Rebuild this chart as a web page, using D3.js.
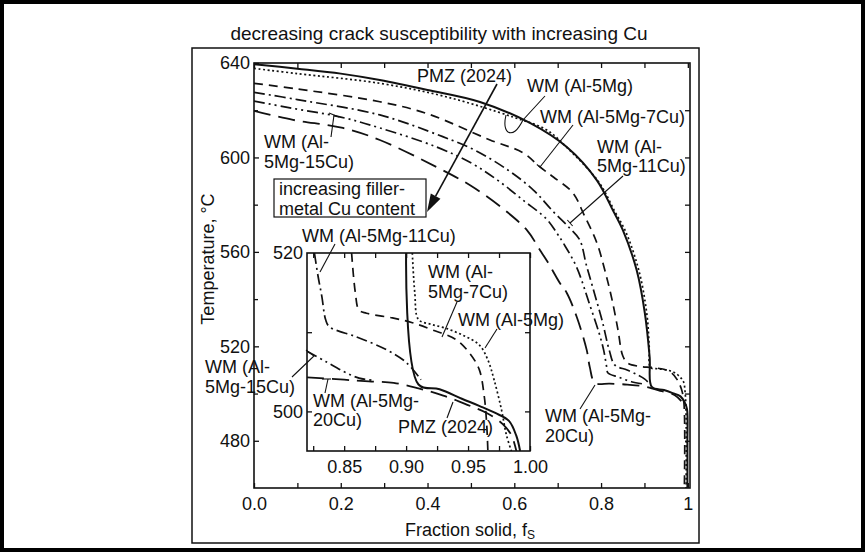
<!DOCTYPE html>
<html><head><meta charset="utf-8">
<script src="https://cdn.jsdelivr.net/npm/d3@7"></script>
<style>
body{margin:0;background:#fff}
svg{display:block}
text{font-family:"Liberation Sans",Arial,Helvetica,sans-serif;fill:#111}
</style>
</head><body>
<svg id="c" width="865" height="552"></svg>
<script>
// ---------- DATA ----------
// main plot: fraction solid vs temperature
const pmzFs  = [0, 0.1, 0.2, 0.29, 0.4, 0.521, 0.636, 0.721, 0.79, 0.827, 0.85, 0.882, 0.901, 0.912, 0.917, 0.945, 0.965, 0.983, 0.992, 0.998, 0.999, 0.999];
const pmzT   = [639.5, 637.6, 635.5, 632.8, 628.6, 623.5, 614.6, 604.4, 590.4, 577.7, 569.3, 552.3, 534, 515.5, 502.8, 501.5, 500.2, 498.8, 496.5, 493.5, 480, 460];
const mg5Fs  = [0, 0.1, 0.29, 0.445, 0.597, 0.675, 0.725, 0.795, 0.832, 0.857, 0.888, 0.906, 0.911, 0.914, 0.93, 0.952, 0.97, 0.982, 0.99, 0.994, 0.996, 0.996];
const mg5T   = [637.7, 635.5, 631.4, 625.6, 617.1, 611.6, 603.5, 589.5, 577, 568.5, 551.5, 533, 520, 511, 510.5, 510, 508.8, 507, 505, 500, 490, 460];
const cu7Fs  = [0, 0.1, 0.29, 0.4, 0.544, 0.62, 0.659, 0.69, 0.735, 0.76, 0.79, 0.809, 0.825, 0.839, 0.85, 0.862, 0.889, 0.92, 0.95, 0.963, 0.975, 0.985, 0.991, 0.992];
const cu7T   = [631.4, 629, 623.6, 618.5, 607.4, 602, 596, 591.7, 585, 576, 564, 552, 540, 527, 516, 512.8, 511.5, 511, 510, 508.7, 506, 502, 496, 460];
const cu11Fs = [0, 0.1, 0.29, 0.435, 0.51, 0.585, 0.644, 0.69, 0.728, 0.751, 0.766, 0.785, 0.803, 0.819, 0.832, 0.86, 0.885, 0.9, 0.912];
const cu11T  = [627.6, 624.5, 618, 608.8, 603, 594.7, 586.2, 577, 570, 565, 554.5, 542.3, 530.5, 518.3, 512, 510, 507.8, 506.2, 504.2];
const cu15Fs = [0, 0.083, 0.2, 0.29, 0.42, 0.502, 0.562, 0.621, 0.674, 0.698, 0.712, 0.743, 0.774, 0.796, 0.806, 0.813, 0.816, 0.84, 0.87, 0.9];
const cu15T  = [623.9, 621, 617.1, 612.5, 604.5, 597.5, 590.3, 581.8, 574, 568, 564, 553.8, 537.5, 525.3, 518.4, 511.2, 508.7, 507, 505, 504];
const cu20Fs = [0, 0.09, 0.205, 0.29, 0.42, 0.5, 0.58, 0.63, 0.659, 0.677, 0.705, 0.721, 0.744, 0.767, 0.774, 0.786, 0.82, 0.86, 0.9, 0.94, 0.97, 0.985];
const cu20T  = [619.7, 615.9, 612.5, 607.4, 596, 588, 577.4, 569, 560.8, 555.7, 546.8, 542.6, 532.4, 518.4, 511.2, 504.5, 504.2, 503.8, 503, 501, 499.3, 496.8];

// inset (enlarged end of solidification)
const inPmzFs  = [0.9, 0.91, 0.927, 0.945, 0.959, 0.972, 0.983, 0.989, 0.992];
const inPmzT   = [520, 503.4, 502.8, 501.6, 500.7, 499.8, 498.8, 496.9, 495];
const inMg5Fs  = [0.905, 0.907, 0.91, 0.92, 0.932, 0.946, 0.959, 0.966, 0.971, 0.977, 0.981, 0.985];
const inMg5T   = [520, 515, 511.6, 511, 510.5, 509.6, 508.4, 506.5, 504, 500.2, 497, 495];
const inCu7Fs  = [0.856, 0.859, 0.862, 0.868, 0.889, 0.905, 0.921, 0.94, 0.951, 0.959, 0.963, 0.965, 0.966];
const inCu7T   = [520, 515, 512.8, 512.4, 511.8, 511.2, 510.3, 509.1, 507.4, 505.3, 502, 498.5, 495];
const inCu11Fs = [0.826, 0.829, 0.832, 0.835, 0.838, 0.86, 0.884, 0.9, 0.912];
const inCu11T  = [520, 517, 514.5, 511.6, 510.7, 509.4, 507.8, 506.2, 504];
const inCu15Fs = [0.82, 0.835, 0.85, 0.862, 0.875];
const inCu15T  = [507.6, 506.3, 505, 504.2, 503.9];
const inCu20Fs = [0.82, 0.85, 0.87, 0.89, 0.91, 0.93, 0.95, 0.965, 0.978, 0.985, 0.989];
const inCu20T  = [504.3, 504, 503.8, 503.6, 502.9, 502, 500.8, 499.8, 498.4, 497, 495];

// ticks / labels
const xMajorMain = [0, 0.2, 0.4, 0.6, 0.8, 1];
const xLabelsMain = ["0.0", "0.2", "0.4", "0.6", "0.8", "1"];
const xMinorMain = [0.1, 0.3, 0.5, 0.7, 0.9];
const yMajorMain = [640, 600, 560, 520, 480];
const yMinorMain = [620, 580, 540, 500];
const yRightMain = [480, 500, 520, 540, 560, 580, 600, 620];
const xMajorIn = [0.85, 0.90, 0.95, 1.00];
const xLabelsIn = ["0.85", "0.90", "0.95", "1.00"];
const xMinorIn = [0.825, 0.875, 0.925, 0.975];
const yTicksIn = [500, 510];
const yLabelsIn = [520, 500];

// ---------- DRAW ----------
const svg = d3.select("#c");
const FONT = 18;

// page border and figure frame
svg.append("rect").attr("x",2).attr("y",2).attr("width",861).attr("height",548)
  .attr("fill","#fff").attr("stroke","#000").attr("stroke-width",4);
svg.append("rect").attr("x",192).attr("y",48).attr("width",507).attr("height",495)
  .attr("fill","none").attr("stroke","#111").attr("stroke-width",1.5);

svg.append("text").attr("x",439).attr("y",33).attr("text-anchor","middle")
  .attr("dominant-baseline","central").style("font-size","19px")
  .text("decreasing crack susceptibility with increasing Cu");

const x = d3.scaleLinear().domain([0, 1.005]).range([254, 690]);
const y = d3.scaleLinear().domain([460, 640]).range([488, 63]);

function noDomain(g){ g.select(".domain").remove(); g.selectAll("line").attr("stroke","#111").attr("stroke-width",1.3); }

// main axes
svg.append("g").attr("transform","translate(0,488)")
  .call(d3.axisBottom(x).tickValues(xMajorMain).tickSize(-5).tickPadding(9)
    .tickFormat((d,i)=>xLabelsMain[i]))
  .call(noDomain).call(g=>g.selectAll("text").style("font-size",FONT+"px").attr("font-family",null));
svg.append("g").attr("transform","translate(0,488)")
  .call(d3.axisBottom(x).tickValues(xMinorMain).tickSize(-5).tickFormat(""))
  .call(noDomain);
svg.append("g").attr("transform","translate(0,63)")
  .call(d3.axisTop(x).tickValues(xMajorMain.concat(xMinorMain)).tickSize(-5).tickFormat(""))
  .call(noDomain);
svg.append("g").attr("transform","translate(254,0)")
  .call(d3.axisLeft(y).tickValues(yMajorMain).tickSize(-5).tickPadding(4).tickFormat(d3.format("d")))
  .call(noDomain).call(g=>g.selectAll("text").style("font-size",FONT+"px").attr("font-family",null));
svg.append("g").attr("transform","translate(254,0)")
  .call(d3.axisLeft(y).tickValues(yMinorMain).tickSize(-4).tickFormat(""))
  .call(noDomain);
svg.append("g").attr("transform","translate(690,0)")
  .call(d3.axisRight(y).tickValues(yRightMain).tickSize(-5).tickFormat(""))
  .call(noDomain);
svg.append("rect").attr("x",254).attr("y",63).attr("width",436).attr("height",425)
  .attr("fill","none").attr("stroke","#111").attr("stroke-width",1.6);

// axis titles
const xt = svg.append("text").attr("x",470).attr("y",530).attr("text-anchor","middle")
  .attr("dominant-baseline","central").style("font-size",FONT+"px");
xt.append("tspan").text("Fraction solid, f");
xt.append("tspan").attr("dy",5).style("font-size","12px").text("S");
svg.append("text").attr("transform","translate(208,259) rotate(-90)").attr("text-anchor","middle")
  .attr("dominant-baseline","central").style("font-size",FONT+"px").text("Temperature, °C");

// clip for main
svg.append("clipPath").attr("id","clipMain").append("rect")
  .attr("x",254).attr("y",63).attr("width",436).attr("height",425);

const styles = {
  pmz:  {w:2.0, dash:null},
  mg5:  {w:1.7, dash:"2,2.6"},
  cu7:  {w:1.7, dash:"9,6"},
  cu11: {w:1.7, dash:"11,4,2,4"},
  cu15: {w:1.7, dash:"11,4,2,4,2,4"},
  cu20: {w:1.8, dash:"17,8"}
};

function drawSeries(g, xs, ys, fsArr, tArr, st){
  const line = d3.line().x(d=>xs(d[0])).y(d=>ys(d[1])).curve(d3.curveCatmullRom.alpha(0.5));
  g.append("path").datum(d3.zip(fsArr, tArr)).attr("d", line)
    .attr("fill","none").attr("stroke","#111").attr("stroke-width",st.w)
    .attr("stroke-dasharray", st.dash).attr("stroke-linejoin","round");
}

const gm = svg.append("g").attr("clip-path","url(#clipMain)");
drawSeries(gm, x, y, cu20Fs, cu20T, styles.cu20);
drawSeries(gm, x, y, cu15Fs, cu15T, styles.cu15);
drawSeries(gm, x, y, cu11Fs, cu11T, styles.cu11);
drawSeries(gm, x, y, cu7Fs, cu7T, styles.cu7);
drawSeries(gm, x, y, mg5Fs, mg5T, styles.mg5);
drawSeries(gm, x, y, pmzFs, pmzT, styles.pmz);

// ---------- annotations ----------
// one <text> per label; extra lines as tspans
function label(lines, x0, y0, gap){
  const t = svg.append("text").attr("x",x0).attr("y",y0).attr("dominant-baseline","central")
    .style("font-size",FONT+"px");
  [].concat(lines).forEach((s,i)=>{
    t.append("tspan").attr("x",x0).attr("dy", i ? (gap||19) : 0).text(s);
  });
}
function seg(x1,y1,x2,y2,w){
  svg.append("line").attr("x1",x1).attr("y1",y1).attr("x2",x2).attr("y2",y2)
    .attr("stroke","#111").attr("stroke-width",w||1.1);
}
function crossbar(x1,y1,x2,y2,h){
  const dx=x2-x1, dy=y2-y1, L=Math.hypot(dx,dy), nx=-dy/L, ny=dx/L;
  seg(x2-nx*h, y2-ny*h, x2+nx*h, y2+ny*h, 1.1);
}

label("PMZ (2024)", 417, 76);
label("WM (Al-5Mg)", 527, 86);
label("WM (Al-5Mg-7Cu)", 540, 117);
label(["WM (Al-", "5Mg-11Cu)"], 597, 146.5, 19.5);
label(["WM (Al-", "5Mg-15Cu)"], 264, 142, 20);
label(["WM (Al-5Mg-", "20Cu)"], 545, 416, 19.5);

// big arrow from PMZ label
{
  const x1=497,y1=84,tx=427,ty=212;
  const dx=tx-x1, dy=ty-y1, L=Math.hypot(dx,dy), ux=dx/L, uy=dy/L, nx=-uy, ny=ux;
  const bx=tx-ux*18, by=ty-uy*18;
  seg(x1,y1,bx,by,1.6);
  svg.append("path").attr("d",`M${tx},${ty}L${bx+nx*5.5},${by+ny*5.5}L${bx-nx*5.5},${by-ny*5.5}Z`).attr("fill","#111");
}
// 5Mg hook pointer
svg.append("path").attr("d","M545,96 L523,120 Q515,136 508,132 Q503,128 506,115")
  .attr("fill","none").attr("stroke","#111").attr("stroke-width",1.1);
// 7Cu pointer
seg(573,125,540,167); crossbar(573,125,540,167,4);
// 11Cu pointer
seg(623,176,570,223); crossbar(623,176,570,223,4);
// 15Cu pointer
seg(331,137,334,115); seg(329,113,339,117);
// 20Cu pointer (main)
seg(580,409,595,385);

// filler box
svg.append("rect").attr("x",274).attr("y",179).attr("width",152).attr("height",38)
  .attr("fill","#fff").attr("stroke","#111").attr("stroke-width",1.2);
label(["increasing filler-", "metal Cu content"], 279, 189, 19.5);

// ---------- inset ----------
const xi = d3.scaleLinear().domain([0.82, 1.0]).range([307, 530]);
const yi = d3.scaleLinear().domain([495, 520]).range([451, 253]);
svg.append("rect").attr("x",307).attr("y",253).attr("width",223).attr("height",198).attr("fill","#fff");
svg.append("clipPath").attr("id","clipIn").append("rect")
  .attr("x",307).attr("y",253).attr("width",223).attr("height",198);
const gi = svg.append("g").attr("clip-path","url(#clipIn)");
drawSeries(gi, xi, yi, inCu20Fs, inCu20T, styles.cu20);
drawSeries(gi, xi, yi, inCu15Fs, inCu15T, styles.cu15);
drawSeries(gi, xi, yi, inCu11Fs, inCu11T, styles.cu11);
drawSeries(gi, xi, yi, inCu7Fs, inCu7T, styles.cu7);
drawSeries(gi, xi, yi, inMg5Fs, inMg5T, styles.mg5);
drawSeries(gi, xi, yi, inPmzFs, inPmzT, styles.pmz);

svg.append("g").attr("transform","translate(0,451)")
  .call(d3.axisBottom(xi).tickValues(xMajorIn).tickSize(-5).tickPadding(9)
    .tickFormat((d,i)=>xLabelsIn[i]))
  .call(noDomain).call(g=>g.selectAll("text").style("font-size",FONT+"px").attr("font-family",null));
svg.append("g").attr("transform","translate(0,451)")
  .call(d3.axisBottom(xi).tickValues(xMinorIn).tickSize(-5).tickFormat(""))
  .call(noDomain);
svg.append("g").attr("transform","translate(0,253)")
  .call(d3.axisTop(xi).tickValues(xMajorIn.concat(xMinorIn)).tickSize(-5).tickFormat(""))
  .call(noDomain);
svg.append("g").attr("transform","translate(307,0)")
  .call(d3.axisLeft(yi).tickValues(yTicksIn).tickSize(-5).tickFormat(""))
  .call(noDomain);
svg.append("g").attr("transform","translate(307,0)")
  .call(d3.axisLeft(yi).tickValues(yLabelsIn).tickSize(0).tickPadding(4).tickFormat(d3.format("d")))
  .call(noDomain).call(g=>g.selectAll("text").style("font-size",FONT+"px").attr("font-family",null));
svg.append("g").attr("transform","translate(530,0)")
  .call(d3.axisRight(yi).tickValues(yTicksIn).tickSize(-5).tickFormat(""))
  .call(noDomain);
svg.append("rect").attr("x",307).attr("y",253).attr("width",223).attr("height",198)
  .attr("fill","none").attr("stroke","#111").attr("stroke-width",1.6);

// inset annotations
label("WM (Al-5Mg-11Cu)", 302, 236);
seg(335,244,320,272);
label(["WM (Al-", "5Mg-7Cu)"], 428, 272, 19.5);
seg(457,302,442,337);
label("WM (Al-5Mg)", 458, 320);
seg(497,329,485,348);
label(["WM (Al-", "5Mg-15Cu)"], 205, 367, 19.5);
svg.append("path").attr("d","M292,377 L314,356 L306,350").attr("fill","none").attr("stroke","#111").attr("stroke-width",1.1);
label(["WM (Al-5Mg-", "20Cu)"], 313, 400.5, 19.5);
seg(325,393,328,379); seg(322,379,331,379);
label("PMZ (2024)", 398, 427);
seg(447,418,453,402);
</script>
</body></html>
